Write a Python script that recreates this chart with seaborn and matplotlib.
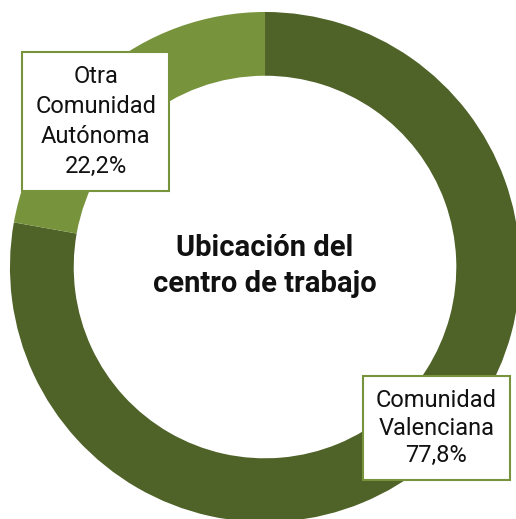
import matplotlib
matplotlib.use("Agg")
import matplotlib.pyplot as plt
import seaborn as sns

categories = ["Comunidad\nValenciana", "Otra\nComunidad\nAutónoma"]
values = [77.8, 22.2]
value_labels = ["77,8%", "22,2%"]
colors = ["#4f6228", "#77933c"]
title = "Ubicación del\ncentro de trabajo"

sns.set_theme(style="white")
plt.rcParams['font.family'] = ['Roboto', 'DejaVu Sans']

fig = plt.figure(figsize=(5.16, 5.19), dpi=100)
ax = fig.add_axes([0, 0, 1, 1])
ax.pie(values, colors=colors, startangle=90, counterclock=False, radius=1.0,
       wedgeprops=dict(width=0.25, edgecolor="none"))
ax.set_xlim(-1.039, 0.984)
ax.set_ylim(-0.988, 1.047)
ax.set_aspect('auto')
ax.axis('off')

label_pos = [(0.672, -0.632), (-0.663, 0.571)]
line_sp = [1.25, 1.38]
for cat, vl, (x, y), ls in zip(categories, value_labels, label_pos, line_sp):
    ax.text(x, y, f"{cat}\n{vl}", ha="center", va="center", fontsize=17,
            color="#111111", linespacing=ls,
            bbox=dict(boxstyle="square,pad=0.55", facecolor="white",
                      edgecolor="#77933c", linewidth=1.5))

ax.text(0.0, 0.005, title, ha="center", va="center", fontsize=21,
        fontweight="bold", color="#111111", linespacing=1.38)

fig.savefig("out.png", dpi=100)
